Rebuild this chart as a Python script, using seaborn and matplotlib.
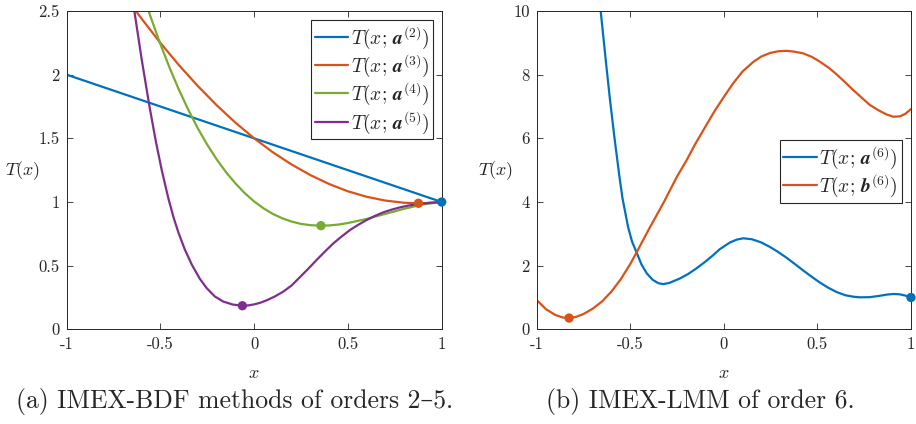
import matplotlib
matplotlib.use("Agg")
import matplotlib.pyplot as plt
import seaborn as sns

# ----------------------------------------------
# Data
# ----------------------------------------------
# (a) IMEX-BDF, orders 2-5
x_a2 = [-1.0, 0.0, 1.0]
t_a2 = [2.0, 1.5, 1.0]

x_a3 = [-0.65, -0.6, -0.5, -0.4, -0.3, -0.2, -0.1, 0.0, 0.1, 0.2, 0.3, 0.4,
        0.5, 0.6, 0.7, 0.8, 0.876, 0.9, 1.0]
t_a3 = [2.539, 2.439, 2.249, 2.073, 1.910, 1.760, 1.623, 1.500, 1.390, 1.294,
        1.211, 1.141, 1.084, 1.041, 1.011, 0.994, 0.990, 0.990, 1.000]

x_a4 = [-0.57, -0.55, -0.5, -0.45, -0.4, -0.35, -0.3, -0.25, -0.2, -0.15, -0.1,
        -0.05, 0.0, 0.05, 0.1, 0.15, 0.2, 0.25, 0.3, 0.356, 0.4, 0.45, 0.5,
        0.6, 0.7, 0.8, 0.9, 1.0]
t_a4 = [2.531, 2.444, 2.239, 2.050, 1.877, 1.720, 1.577, 1.449, 1.335, 1.234,
        1.146, 1.069, 1.004, 0.950, 0.906, 0.872, 0.846, 0.828, 0.818, 0.814,
        0.816, 0.823, 0.835, 0.867, 0.907, 0.947, 0.981, 1.000]

x_a5 = [-0.65, -0.636, -0.6, -0.559, -0.525, -0.493, -0.458, -0.43, -0.405,
        -0.37, -0.333, -0.29, -0.253, -0.21, -0.165, -0.115, -0.063, -0.031,
        0.0, 0.031, 0.067, 0.11, 0.155, 0.2, 0.244, 0.29, 0.333, 0.378, 0.422,
        0.467, 0.511, 0.556, 0.6, 0.644, 0.689, 0.733, 0.778, 0.822, 0.867,
        0.933, 1.0]
t_a5 = [2.60, 2.47, 2.12, 1.755, 1.48, 1.25, 1.03, 0.879, 0.764, 0.627, 0.509,
        0.397, 0.323, 0.258, 0.218, 0.195, 0.185, 0.188, 0.196, 0.208, 0.228,
        0.258, 0.296, 0.345, 0.41, 0.478, 0.545, 0.612, 0.675, 0.73, 0.78,
        0.822, 0.859, 0.891, 0.919, 0.94, 0.958, 0.972, 0.982, 0.993, 1.0]

# minima marked with dots (x, T)
dots_a_x = [1.0, 0.876, 0.356, -0.063]
dots_a_t = [1.0, 0.990, 0.814, 0.185]

# (b) IMEX-LMM, order 6
x_a6 = [-0.67, -0.658, -0.63, -0.608, -0.585, -0.559, -0.541, -0.511, -0.49,
        -0.466, -0.44, -0.412, -0.38, -0.35, -0.324, -0.29, -0.234, -0.19,
        -0.145, -0.1, -0.057, -0.021, 0.033, 0.07, 0.104, 0.15, 0.2, 0.246,
        0.29, 0.335, 0.38, 0.424, 0.47, 0.513, 0.56, 0.603, 0.65, 0.691, 0.727,
        0.78, 0.83, 0.87, 0.906, 0.94, 0.97, 1.0]
t_a6 = [10.7, 10.0, 8.4, 7.2, 6.05, 4.85, 4.1, 3.2, 2.75, 2.41, 2.04, 1.76,
        1.555, 1.45, 1.42, 1.46, 1.6, 1.74, 1.92, 2.12, 2.33, 2.52, 2.73, 2.82,
        2.86, 2.83, 2.73, 2.59, 2.43, 2.25, 2.05, 1.85, 1.65, 1.47, 1.30, 1.17,
        1.07, 1.025, 1.005, 1.01, 1.05, 1.09, 1.11, 1.10, 1.06, 1.0]

x_b6 = [-1.0, -0.95, -0.9, -0.86, -0.827, -0.79, -0.75, -0.7, -0.65, -0.6,
        -0.55, -0.5, -0.466, -0.4, -0.32, -0.25, -0.2, -0.15, -0.1, -0.05, 0.0,
        0.05, 0.1, 0.157, 0.2, 0.246, 0.29, 0.335, 0.38, 0.424, 0.47, 0.513,
        0.56, 0.603, 0.65, 0.691, 0.74, 0.78, 0.83, 0.87, 0.905, 0.94, 0.97, 1.0]
t_b6 = [0.92, 0.63, 0.45, 0.37, 0.355, 0.39, 0.48, 0.65, 0.88, 1.19, 1.58, 2.05,
        2.42, 3.15, 4.0, 4.8, 5.3, 5.85, 6.35, 6.85, 7.3, 7.73, 8.1, 8.40, 8.57,
        8.68, 8.735, 8.75, 8.72, 8.67, 8.56, 8.41, 8.22, 8.01, 7.75, 7.52, 7.26,
        7.05, 6.87, 6.75, 6.68, 6.69, 6.77, 6.92]

dots_b_x = [1.0, -0.827]
dots_b_t = [1.0, 0.355]

x_ticks = [-1, -0.5, 0, 0.5, 1]
x_ticklabels = ["-1", "-0.5", "0", "0.5", "1"]
ya_ticks = [0, 0.5, 1, 1.5, 2, 2.5]
ya_ticklabels = ["0", "0.5", "1", "1.5", "2", "2.5"]
yb_ticks = [0, 2, 4, 6, 8, 10]
yb_ticklabels = ["0", "2", "4", "6", "8", "10"]

labels_a = [r"$T(x;\,\mathbfit{a}^{(2)})$", r"$T(x;\,\mathbfit{a}^{(3)})$",
            r"$T(x;\,\mathbfit{a}^{(4)})$", r"$T(x;\,\mathbfit{a}^{(5)})$"]
labels_b = [r"$T(x;\,\mathbfit{a}^{(6)})$", r"$T(x;\,\mathbfit{b}^{(6)})$"]
captions = ["(a) IMEX-BDF methods of orders 2\u20135.", "(b) IMEX-LMM of order 6."]

# MATLAB default colours
c_blue, c_orange, c_green, c_purple = "#0072BD", "#D95319", "#77AC30", "#7E2F8E"

# ----------------------------------------------
# Style
# ----------------------------------------------
sns.set_theme(style="ticks")
plt.rcParams["font.family"] = ["cmr10", "DejaVu Serif"]
plt.rcParams["mathtext.fontset"] = "cm"
plt.rcParams["axes.unicode_minus"] = False
plt.rcParams["axes.edgecolor"] = "#262626"
plt.rcParams["axes.linewidth"] = 0.7
plt.rcParams["xtick.direction"] = "in"
plt.rcParams["ytick.direction"] = "in"
plt.rcParams["xtick.top"] = True
plt.rcParams["ytick.right"] = True
plt.rcParams["xtick.color"] = "#262626"
plt.rcParams["ytick.color"] = "#262626"

fig = plt.figure(figsize=(9.16, 4.24), dpi=100)
ax1 = fig.add_axes([0.0728, 0.2233, 0.4094, 0.7507])
ax2 = fig.add_axes([0.5859, 0.2233, 0.4086, 0.7507])

lw = 1.6

# ----------------------------------------------
# (a)
# ----------------------------------------------
for xs, ts, col, lab in zip([x_a2, x_a3, x_a4, x_a5], [t_a2, t_a3, t_a4, t_a5],
                            [c_blue, c_orange, c_green, c_purple], labels_a):
    sns.lineplot(x=xs, y=ts, ax=ax1, color=col, lw=lw, label=lab,
                 estimator=None, sort=False)
sns.scatterplot(x=dots_a_x, y=dots_a_t, ax=ax1, hue=[0, 1, 2, 3],
                palette=[c_blue, c_orange, c_green, c_purple], s=45,
                edgecolor="none", legend=False, zorder=5, clip_on=False)

ax1.set_xlim(-1, 1)
ax1.set_ylim(0, 2.5)
ax1.set_yticks(ya_ticks, ya_ticklabels)

# ----------------------------------------------
# (b)
# ----------------------------------------------
for xs, ts, col, lab in zip([x_a6, x_b6], [t_a6, t_b6], [c_blue, c_orange], labels_b):
    sns.lineplot(x=xs, y=ts, ax=ax2, color=col, lw=lw, label=lab,
                 estimator=None, sort=False)
sns.scatterplot(x=dots_b_x, y=dots_b_t, ax=ax2, hue=[0, 1],
                palette=[c_blue, c_orange], s=45, edgecolor="none",
                legend=False, zorder=5, clip_on=False)

ax2.set_xlim(-1, 1)
ax2.set_ylim(0, 10)
ax2.set_yticks(yb_ticks, yb_ticklabels)

for ax in (ax1, ax2):
    ax.set_xticks(x_ticks, x_ticklabels)
    ax.tick_params(labelsize=12, length=4, width=0.6, pad=5)
    ax.set_xlabel(r"$x$", fontsize=13)
    ax.xaxis.set_label_coords(0.5, -0.115)
    ax.set_ylabel(r"$T(x)$", fontsize=13, rotation=0, ha="center", va="center")
    for s in ax.spines.values():
        s.set_visible(True)

ax1.yaxis.set_label_coords(-0.118, 0.5)
ax2.yaxis.set_label_coords(-0.11, 0.5)

leg_kw = dict(fontsize=14, frameon=True, fancybox=False, framealpha=1,
              edgecolor="#262626", handlelength=1.7, handletextpad=0.15,
              labelspacing=0.08, borderpad=0.2, borderaxespad=0)
l1 = ax1.legend(loc="upper right", bbox_to_anchor=(0.977, 0.972), **leg_kw)
l2 = ax2.legend(loc="upper right", bbox_to_anchor=(0.976, 0.595), **leg_kw)
for l in (l1, l2):
    l.get_frame().set_linewidth(0.8)

fig.text(0.2566, 0.054, captions[0], ha="center", va="center", fontsize=18.5)
fig.text(0.764, 0.054, captions[1], ha="center", va="center", fontsize=18.5)

fig.savefig("out.png", dpi=100)
